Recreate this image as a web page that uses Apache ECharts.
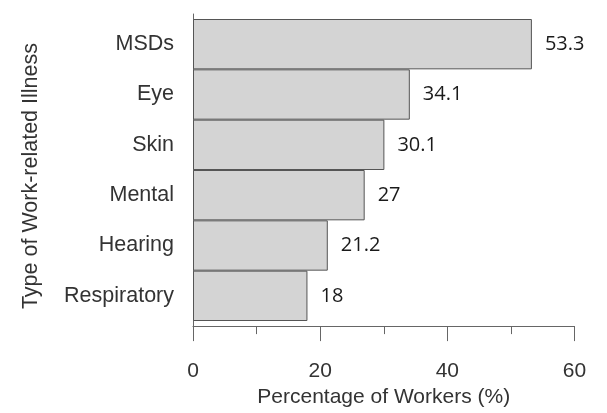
<!DOCTYPE html>
<html>
<head>
<meta charset="utf-8">
<script src="https://cdn.jsdelivr.net/npm/echarts@6/dist/echarts.min.js"></script>
<style>
  html, body { margin: 0; padding: 0; background: #fff; }
  #chart { width: 607px; height: 413px; }
</style>
</head>
<body>
<div id="chart"></div>
<script>
// illness types, top to bottom
var categories = ['MSDs', 'Eye', 'Skin', 'Mental', 'Hearing', 'Respiratory'];
// percentage of workers
var values = [53.3, 34.1, 30.1, 27, 21.2, 18];
var xTicks = [0, 20, 40, 60];

var chart = echarts.init(document.getElementById('chart'));
var axisFont = 'Liberation Sans, Arial, sans-serif';

var option = {
  animation: false,
  grid: [
    // bars
    { left: 193, right: 32.5, top: 19, height: 302 },
    // frame with the axes
    { left: 193, right: 32.5, top: 14, height: 324 }
  ],
  xAxis: [{
    gridIndex: 0,
    type: 'value',
    min: xTicks[0],
    max: xTicks[xTicks.length - 1],
    show: false,
    splitLine: { show: false }
  }, {
    gridIndex: 1,
    type: 'value',
    min: xTicks[0],
    max: xTicks[xTicks.length - 1],
    interval: 20,
    name: 'Percentage of Workers (%)',
    nameLocation: 'middle',
    nameGap: 56,
    nameTextStyle: { fontFamily: axisFont, fontSize: 21, color: '#333' },
    axisLine: { show: true, onZero: false, lineStyle: { color: '#666', width: 1 } },
    axisTick: { show: true, length: 15, lineStyle: { color: '#666' } },
    minorTick: { show: true, splitNumber: 2, length: 8, lineStyle: { color: '#666' } },
    axisLabel: { margin: 35, fontFamily: axisFont, fontSize: 21, color: '#333' },
    splitLine: { show: false }
  }],
  yAxis: [{
    gridIndex: 0,
    type: 'category',
    inverse: true,
    data: categories,
    axisLine: { show: false },
    axisTick: { show: false },
    axisLabel: { margin: 19, fontFamily: axisFont, fontSize: 21.5, color: '#333' }
  }, {
    gridIndex: 1,
    type: 'value',
    min: 0,
    max: 1,
    name: 'Type of Work-related Illness',
    nameLocation: 'middle',
    nameGap: 151,
    nameTextStyle: { fontFamily: axisFont, fontSize: 21.5, color: '#333', padding: [0, 12, 0, 0] },
    axisLine: { show: true, onZero: false, lineStyle: { color: '#666', width: 1 } },
    axisTick: { show: false },
    axisLabel: { show: false },
    splitLine: { show: false }
  }],
  series: [{
    type: 'bar',
    xAxisIndex: 0,
    yAxisIndex: 0,
    data: values,
    barCategoryGap: '0%',
    itemStyle: { color: '#d4d4d4', borderColor: '#555', borderWidth: 1 },
    label: {
      show: true,
      position: 'right',
      distance: 13,
      fontFamily: 'Open Sans, sans-serif',
      fontSize: 20,
      color: '#1a1a1a'
    }
  }]
};
chart.setOption(option);
</script>
</body>
</html>
